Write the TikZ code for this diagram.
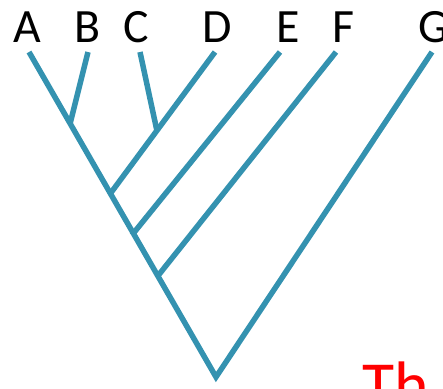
\documentclass[tikz,border=0pt]{standalone}
\usepackage{fontspec}
\setmainfont{Carlito}
\usepackage{tikz}
\definecolor{treeblue}{RGB}{52,146,176}
\definecolor{titlered}{RGB}{255,0,0}
\tikzset{
  taxon/.style={anchor=base,inner sep=0pt,font=\fontsize{48}{48}\selectfont},
  branch/.style={draw=treeblue,line width=5.5bp,line cap=butt,line join=miter},
  titletext/.style={anchor=base west,inner sep=0pt,text=titlered,
    font=\fontsize{66}{66}\selectfont}
}

\begin{document}
\begin{tikzpicture}[x=1bp,y=-1bp]
  \useasboundingbox (0,0) rectangle (443,388);
  % taxa
  \node[taxon] (A) at (27.5,42) {A};
  \node[taxon] (B) at (87.5,42) {B};
  \node[taxon] (C) at (136,42) {C};
  \node[taxon] (D) at (217,42) {D};
  \node[taxon] (E) at (288,42) {E};
  \node[taxon] (F) at (343,42) {F};
  \node[taxon] (G) at (434,42) {G};
  % tips and splits
  \coordinate (tA) at (29,52);
  \coordinate (tB) at (88,52);
  \coordinate (tC) at (140,52);
  \coordinate (tD) at (215,52);
  \coordinate (tE) at (280,52);
  \coordinate (tF) at (336,52);
  \coordinate (tG) at (432,52);
  \coordinate (root) at (216,377);
  \coordinate (nAB) at (70,124);
  \coordinate (nCD) at (157,131);
  \coordinate (nABCD) at (110,194);
  \coordinate (nE) at (132,235);
  \coordinate (nF) at (157,277);
  \draw[branch] (tA) -- (root) -- (tG);
  \draw[branch] (tB) -- (nAB);
  \draw[branch] (tC) -- (nCD);
  \draw[branch] (tD) -- (nABCD);
  \draw[branch] (tE) -- (nE);
  \draw[branch] (tF) -- (nF);
  \node[titletext] (title) at (362,407) {Th};
\end{tikzpicture}
\end{document}
